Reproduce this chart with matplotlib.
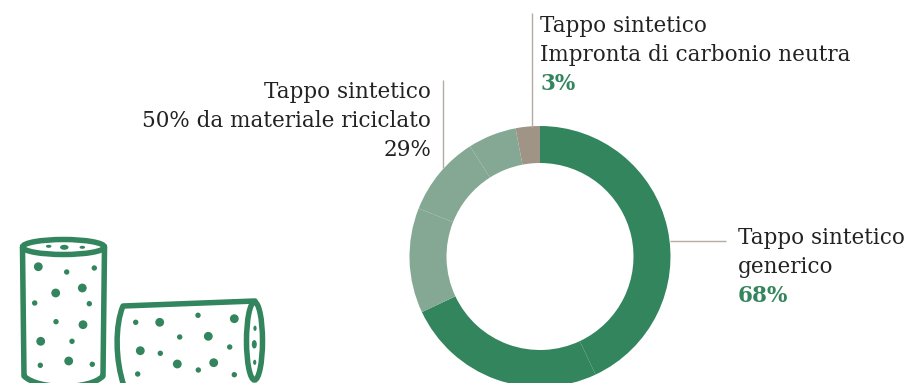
import matplotlib
matplotlib.use("Agg")
import matplotlib.pyplot as plt
import matplotlib.patches as mpatches
from matplotlib.path import Path

# ── Data ──────────────────────────────────────────────────────────────────────
SLICE_VALUES = [43, 25, 13, 10, 6, 3]
SLICE_GROUPS = ["generic", "generic", "recycled", "recycled", "recycled", "neutral"]
GROUP_COLORS = {"generic": "#32855C", "recycled": "#84A893", "neutral": "#A09487"}

GENERIC_LABEL = ["Tappo sintetico", "generico"]
GENERIC_PCT = "68%"
RECYCLED_LABEL = ["Tappo sintetico", "50% da materiale riciclato"]
RECYCLED_PCT = "29%"
NEUTRAL_LABEL = ["Tappo sintetico", "Impronta di carbonio neutra"]
NEUTRAL_PCT = "3%"

# ── Style ─────────────────────────────────────────────────────────────────────
W, H = 906, 383
GREEN = "#32855C"
LEADER = "#B5ADA2"
INK = "#222222"
FONT = "DejaVu Serif"
FS = 15.5
PX = 0.72  # one pixel in points at 100 dpi

# Drawn in pixel coordinates, y pointing down
fig = plt.figure(figsize=(W / 100, H / 100), dpi=100, facecolor="white")
ax = fig.add_axes([0, 0, 1, 1])

# y is flipped, so counterclock=True runs clockwise on screen
ax.pie(SLICE_VALUES, colors=[GROUP_COLORS[g] for g in SLICE_GROUPS],
       center=(540, 256.5), radius=130.5, startangle=270, counterclock=True,
       wedgeprops={"width": 37, "linewidth": 0})
ax.set_xlim(0, W)
ax.set_ylim(H, 0)
ax.axis("off")

# Leader lines
for xs, ys in [((443, 443), (80, 168)), ((532, 532), (13, 127)), ((670, 726), (241, 241))]:
    ax.plot(xs, ys, color=LEADER, lw=1.4 * PX, solid_capstyle="butt")


def label(x, y0, lines, pct, ha="left", bold_pct=True):
    y = y0
    for line in lines:
        ax.text(x, y, line, ha=ha, va="baseline", family=FONT, fontsize=FS, color=INK)
        y += 29
    ax.text(x, y, pct, ha=ha, va="baseline", family=FONT, fontsize=FS,
            color=GREEN if bold_pct else INK, fontweight="bold" if bold_pct else "normal")


label(431, 98, RECYCLED_LABEL, RECYCLED_PCT, ha="right", bold_pct=False)
label(540, 32, NEUTRAL_LABEL, NEUTRAL_PCT)
label(738, 244, GENERIC_LABEL, GENERIC_PCT)

# ── Cork icons ────────────────────────────────────────────────────────────────
ICON_LW = 5.5 * PX
R_BIG, R_SMALL = 4.4, 2.7


def stroke(verts, codes):
    ax.add_patch(mpatches.PathPatch(Path(verts, codes), fill=False, edgecolor=GREEN,
                                    lw=ICON_LW, capstyle="round", joinstyle="round"))


def dots(items):
    for x, y, r in items:
        ax.add_patch(mpatches.Circle((x, y), r, color=GREEN, lw=0))


def ovals(items):
    for x, y, w, h in items:
        ax.add_patch(mpatches.Ellipse((x, y), w, h, color=GREEN, lw=0))


# Upright cork
ax.add_patch(mpatches.Ellipse((63.5, 247), 82, 15, fill=False, edgecolor=GREEN, lw=ICON_LW))
stroke([(22.5, 248), (24, 376), (38, 390), (90, 390), (103, 376), (104.5, 248)],
       [Path.MOVETO, Path.LINETO, Path.CURVE4, Path.CURVE4, Path.CURVE4, Path.LINETO])
ovals([(48.7, 246.3, 5.5, 3), (64.3, 247.3, 8.5, 5), (82.3, 247.3, 5.5, 3)])
dots([(38.3, 266.7, R_BIG), (66.7, 272, R_SMALL), (94.3, 268, R_SMALL),
      (55.7, 293, R_BIG), (82.3, 288, R_BIG), (34.7, 303, R_SMALL),
      (89.3, 303.7, R_SMALL), (56, 321.7, R_SMALL), (83, 324.7, R_BIG),
      (40.7, 341.3, R_BIG), (72, 341.3, R_SMALL), (40.3, 365.3, R_SMALL),
      (68.7, 361, R_BIG), (92.3, 364.3, R_SMALL)])

# Lying cork
stroke([(255, 301), (123, 306), (115, 325), (115, 360), (124, 386)],
       [Path.MOVETO, Path.LINETO, Path.CURVE4, Path.CURVE4, Path.CURVE4])
ax.add_patch(mpatches.Ellipse((254.5, 341), 16, 78, fill=False, edgecolor=GREEN, lw=ICON_LW))
dots([(135.7, 322.3, R_SMALL), (159.7, 322.3, R_BIG), (198, 315.3, R_SMALL),
      (234.3, 318.7, R_BIG), (179.7, 337, R_SMALL), (208.3, 336.3, R_BIG),
      (229.7, 347, R_SMALL), (140.3, 350.7, R_BIG), (160.3, 353.3, R_SMALL),
      (177.3, 364, R_BIG), (198.3, 370, R_SMALL), (213.7, 362.7, R_BIG),
      (137.7, 374, R_SMALL), (234.3, 374.7, R_SMALL)])
ovals([(255, 328.3, 3.2, 5.2), (254.3, 344.3, 5, 8.5), (254.7, 362.3, 3.2, 5.2)])

fig.savefig("out.png", dpi=100, facecolor="white")
